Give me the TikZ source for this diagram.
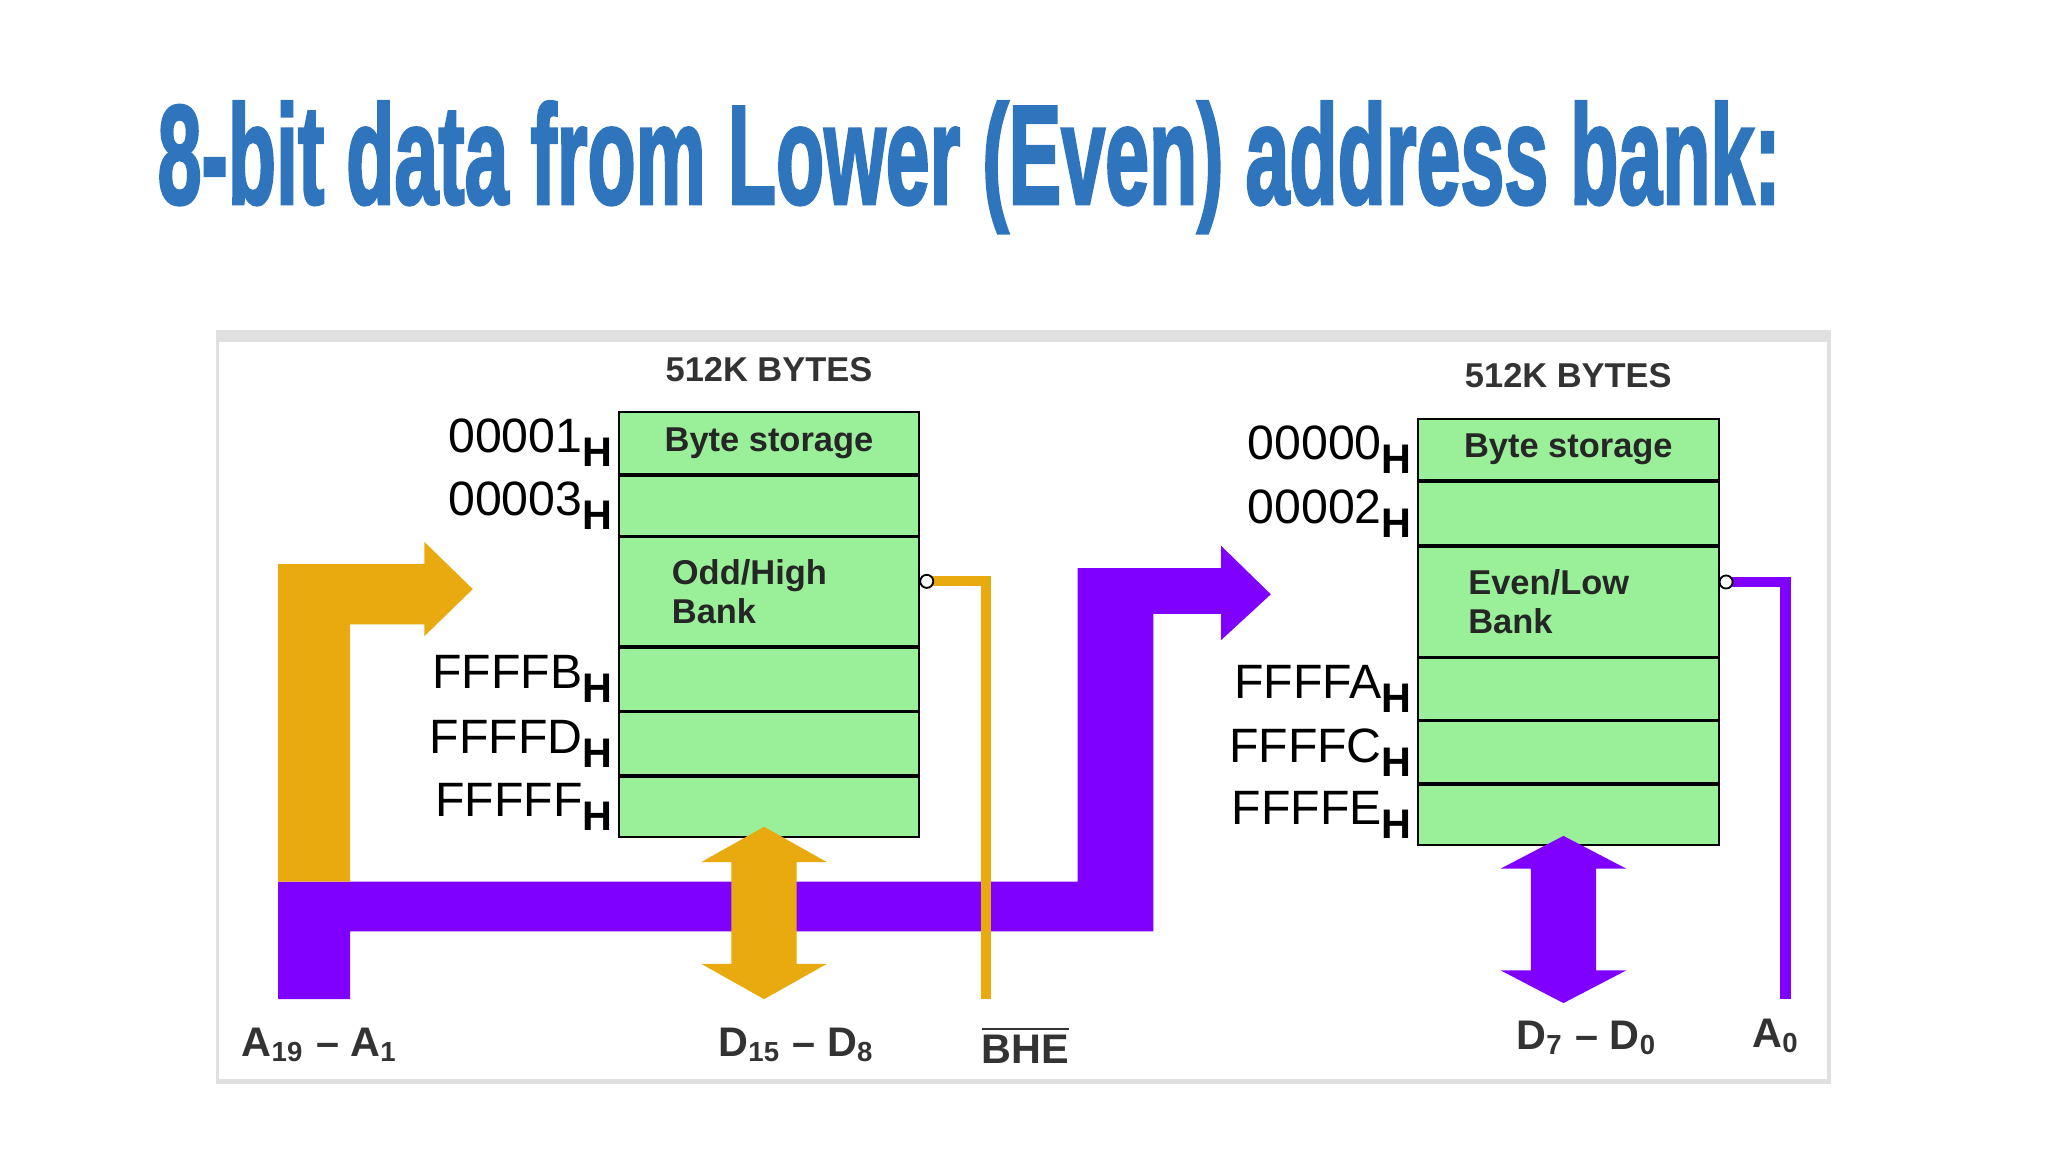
\documentclass[tikz,border=0pt]{standalone}
\usepackage{fontspec}
\setmainfont{Liberation Sans}
\newfontfamily\titlefont{Liberation Sans}[BoldFeatures={FakeBold=2.5}]
\usetikzlibrary{positioning}
\definecolor{titleblue}{RGB}{46,117,190}
\definecolor{cellgreen}{RGB}{153,240,153}
\definecolor{busorange}{RGB}{232,170,14}
\definecolor{buspurple}{RGB}{128,0,255}
\tikzstyle{cell} = [rectangle, draw=black, fill=cellgreen, minimum width=2.3cm, inner sep=0pt,
                    font=\bfseries\fontsize{7.5}{8.5}\selectfont, text=black!85]
\tikzstyle{addr} = [anchor=east, font=\fontsize{10.5}{11}\selectfont, inner sep=1pt]
\tikzstyle{pin} = [font=\fontsize{9}{10}\selectfont\bfseries, text=black!80]
\tikzstyle{head} = [font=\fontsize{7.5}{8}\selectfont\bfseries, text=black!80]
\newcommand{\hsub}[1]{#1\raisebox{-0.55ex}{\fontsize{9}{9}\selectfont\bfseries H}}
\begin{document}
\begin{tikzpicture}[x=0.01cm, y=-0.01cm]
    \useasboundingbox (0,0) rectangle (1568,882);
    % Title
    \node[anchor=west, text=titleblue, inner sep=0pt] (title) at (120,128)
        {\resizebox{12.42cm}{0.78cm}{\titlefont\bfseries 8-bit data from Lower (Even) address bank:}};
    % Panel
    \fill[black!12] (165,253) rectangle (1402,830);
    \fill[white] (168,262) rectangle (1399,826);

    % Left bank
    \node[cell, minimum height=0.47cm, anchor=north west] (l1) at (473,315) {Byte storage};
    \node[cell, minimum height=0.46cm, below=0 of l1] (l2) {};
    \node[cell, minimum height=0.83cm, below=0 of l2, align=left] (l3) {\hspace*{-0.3cm}Odd/High\\\hspace*{-0.3cm}Bank};
    \node[cell, minimum height=0.48cm, below=0 of l3] (l4) {};
    \node[cell, minimum height=0.48cm, below=0 of l4] (l5) {};
    \node[cell, minimum height=0.46cm, below=0 of l5] (l6) {};
    \node[head, above=3pt of l1] (lhead) {512K BYTES};
    \node[addr] at (l1.west) {\hsub{00001}};
    \node[addr] at (l2.west) {\hsub{00003}};
    \node[addr] at (l4.west) {\hsub{FFFFB}};
    \node[addr] at (l5.west) {\hsub{FFFFD}};
    \node[addr] at (l6.west) {\hsub{FFFFF}};

    % Right bank
    \node[cell, minimum height=0.47cm, anchor=north west] (r1) at (1085,320) {Byte storage};
    \node[cell, minimum height=0.48cm, below=0 of r1] (r2) {};
    \node[cell, minimum height=0.84cm, below=0 of r2, align=left] (r3) {\hspace*{-0.3cm}Even/Low\\\hspace*{-0.3cm}Bank};
    \node[cell, minimum height=0.47cm, below=0 of r3] (r4) {};
    \node[cell, minimum height=0.47cm, below=0 of r4] (r5) {};
    \node[cell, minimum height=0.46cm, below=0 of r5] (r6) {};
    \node[head, above=3pt of r1] (rhead) {512K BYTES};
    \node[addr] at (r1.west) {\hsub{00000}};
    \node[addr] at (r2.west) {\hsub{00002}};
    \node[addr] at (r4.west) {\hsub{FFFFA}};
    \node[addr] at (r5.west) {\hsub{FFFFC}};
    \node[addr] at (r6.west) {\hsub{FFFFE}};

    % Bottom pins
    \node[pin] (a19) at (245,800) {A\textsubscript{19} -- A\textsubscript{1}};
    \node[pin] (dhi) at (610,800) {D\textsubscript{15} -- D\textsubscript{8}};
    \node[pin] (bhe) at (785,800) {$\overline{\textbf{BHE}}$};
    \node[pin] (dlo) at (1215,795) {D\textsubscript{7} -- D\textsubscript{0}};
    \node[pin] (a0) at (1360,793) {A\textsubscript{0}};

    % Purple address bus
    \fill[buspurple] (213,765) -- (213,675) -- (825,675) -- (825,435) -- (935,435) -- (935,418)
        -- (973,455) -- (935,490) -- (935,470) -- (883,470) -- (883,713) -- (268,713) -- (268,765) -- cycle;
    % Orange address bus
    \fill[busorange] (213,675) -- (213,432) -- (325,432) -- (325,415) -- (362,451) -- (325,487)
        -- (325,478) -- (268,478) -- (268,675) -- cycle;
    % Data buses
    \fill[busorange] (585,633) -- (633,660) -- (610,660) -- (610,738) -- (633,738) -- (585,765)
        -- (537,738) -- (560,738) -- (560,660) -- (537,660) -- cycle;
    \fill[buspurple] (1197,640) -- (1245,665) -- (1222,665) -- (1222,743) -- (1245,743) -- (1197,768)
        -- (1149,743) -- (1172,743) -- (1172,665) -- (1149,665) -- cycle;

    % Select lines
    \coordinate (bheend) at (755,765);
    \coordinate (a0end) at (1367,765);
    \draw[busorange, line width=2.2pt] (l3.east) ++(5,-8) -| (bheend);
    \draw[buspurple, line width=2.2pt] (r3.east) ++(5,-15) -| (a0end);
    \draw[fill=white] (l3.east) ++(5,-8) circle (5);
    \draw[fill=white] (r3.east) ++(5,-15) circle (5);
\end{tikzpicture}
\end{document}
